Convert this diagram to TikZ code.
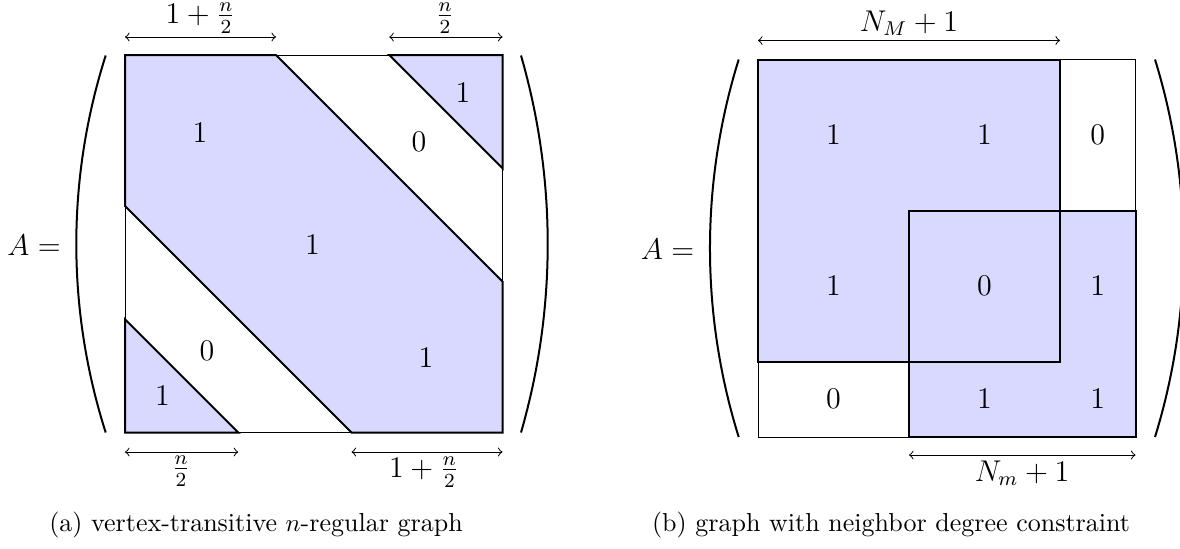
\documentclass[tikz,border=0pt]{standalone}
\usepackage{amsmath}
\definecolor{fillc}{RGB}{217,217,255}
\begin{document}
\begin{tikzpicture}[x=0.4pt,y=-0.4pt,
  blk/.style={fill=fillc,draw=black,line width=0.8pt,line join=miter},
  blkfill/.style={fill=fillc},
  blkdraw/.style={draw=black,line width=0.8pt},
  frame/.style={draw=black,line width=0.4pt},
  dim/.style={<->,line width=0.4pt},
  paren/.style={line width=0.8pt},
  ent/.style={font=\large,inner sep=0pt},
  lbl/.style={font=\large,inner sep=0pt},
  captxt/.style={font=\fontsize{10.4}{12.5}\selectfont,inner sep=0pt}]
\clip (0,0) rectangle (1180,548);
% ---------------- left matrix ----------------
\draw[frame] (125,55) rectangle (502.5,432.5);
\draw[blk] (125,55) -- (276,55) -- (502.5,281.5) -- (502.5,432.5) -- (351.5,432.5) -- (125,206) -- cycle;
\draw[blk] (389.25,55) -- (502.5,55) -- (502.5,168.25) -- cycle;
\draw[blk] (125,319.25) -- (238.25,432.5) -- (125,432.5) -- cycle;
\node[ent] (la1) at (200,133) {$1$};
\node[ent] (la2) at (419,142) {$0$};
\node[ent] (la3) at (463,93) {$1$};
\node[ent] (la4) at (312.5,245) {$1$};
\node[ent] (la5) at (207,351) {$0$};
\node[ent] (la6) at (162.5,396) {$1$};
\node[ent] (la7) at (426,357.5) {$1$};
\draw[paren] (105.7,55.5) .. controls (66.5,178.5) and (66.5,309.5) .. (105.7,432.5);
\draw[paren] (521,55.5) .. controls (556.6,178.5) and (556.6,309.5) .. (521,432.5);
\node[lbl] (lA) at (34,245) {$A =$};
\coordinate (lt1a) at (125,37);
\coordinate (lt1b) at (276,37);
\coordinate (lt2a) at (389.25,37);
\coordinate (lt2b) at (502.5,37);
\coordinate (lb1a) at (125,452);
\coordinate (lb1b) at (238.25,452);
\coordinate (lb2a) at (351.5,452);
\coordinate (lb2b) at (502.5,452);
\draw[dim] (lt1a) -- (lt1b);
\draw[dim] (lt2a) -- (lt2b);
\draw[dim] (lb1a) -- (lb1b);
\draw[dim] (lb2a) -- (lb2b);
\node[lbl] (llt1) at (200.5,18) {$1+\frac{n}{2}$};
\node[lbl] (llt2) at (445,18) {$\frac{n}{2}$};
\node[lbl] (llb1) at (181,471) {$\frac{n}{2}$};
\node[lbl] (llb2) at (424,472) {$1+\frac{n}{2}$};
\node[captxt] (capa) at (256,525) {(a) vertex-transitive $n$-regular graph};
% ---------------- right matrix ----------------
\draw[frame] (758,59.5) rectangle (1135.5,437);
\fill[blkfill] (758,59.5) rectangle (1060,361.5);
\fill[blkfill] (909,210.5) rectangle (1135.5,437);
\draw[blkdraw] (758,59.5) rectangle (1060,361.5);
\draw[blkdraw] (909,210.5) rectangle (1135.5,437);
\node[ent] (r11) at (833.5,135) {$1$};
\node[ent] (r12) at (984.5,135) {$1$};
\node[ent] (r13) at (1097.75,135) {$0$};
\node[ent] (r21) at (833.5,286) {$1$};
\node[ent] (r22) at (984.5,286) {$0$};
\node[ent] (r23) at (1097.75,286) {$1$};
\node[ent] (r31) at (833.5,399) {$0$};
\node[ent] (r32) at (984.5,399) {$1$};
\node[ent] (r33) at (1097.75,399) {$1$};
\draw[paren] (738.7,59.5) .. controls (700.4,182.5) and (700.4,314) .. (738.7,437);
\draw[paren] (1155,59.5) .. controls (1193,182.5) and (1193,314) .. (1155,437);
\node[lbl] (rA) at (667.5,249) {$A =$};
\coordinate (rta) at (758,40.5);
\coordinate (rtb) at (1060,40.5);
\coordinate (rba) at (909,455);
\coordinate (rbb) at (1135.5,455);
\draw[dim] (rta) -- (rtb);
\draw[dim] (rba) -- (rbb);
\node[lbl] (rlt) at (909,23) {$N_M+1$};
\node[lbl] (rlb) at (1022,473) {$N_m+1$};
\node[captxt] (capb) at (891,525) {(b) graph with neighbor degree constraint};
\end{tikzpicture}
\end{document}
